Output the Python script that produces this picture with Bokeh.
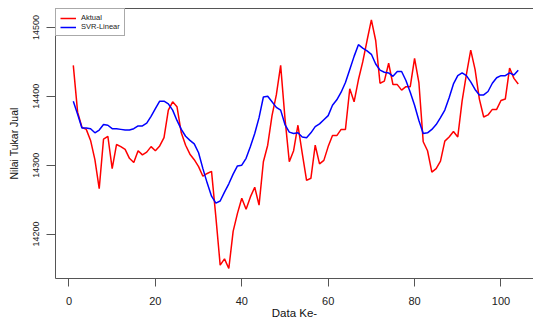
from bokeh.plotting import figure
from bokeh.models import FixedTicker, Range1d, LinearAxis
from bokeh.embed import file_html
from bokeh.resources import INLINE

# ---- data ----
index = list(range(1, 105))
aktual = [14445, 14377, 14355, 14352, 14336, 14308, 14266, 14338, 14342, 14295,
          14330, 14327, 14323, 14310, 14304, 14321, 14315, 14319, 14327, 14321,
          14328, 14340, 14380, 14392, 14385, 14347, 14329, 14316, 14308, 14298,
          14284, 14288, 14291, 14225, 14155, 14164, 14150, 14204, 14230, 14252,
          14236, 14254, 14268, 14242, 14305, 14329, 14372, 14402, 14445, 14368,
          14305, 14321, 14358, 14317, 14278, 14281, 14329, 14302, 14307, 14327,
          14343, 14343, 14352, 14352, 14411, 14392, 14424, 14450, 14481, 14511,
          14481, 14419, 14422, 14448, 14417, 14417, 14409, 14414, 14414, 14455,
          14420, 14334, 14321, 14290, 14295, 14306, 14335, 14341, 14349, 14341,
          14393, 14432, 14467, 14439, 14396, 14370, 14373, 14381, 14381, 14394,
          14396, 14441, 14426, 14418]
svr_linear = [14393, 14374, 14354, 14354, 14353, 14347, 14351, 14359, 14358, 14353,
              14353, 14352, 14351, 14351, 14353, 14357, 14357, 14361, 14371, 14382,
              14393, 14393, 14389, 14380, 14365, 14352, 14342, 14336, 14331, 14318,
              14295, 14274, 14255, 14245, 14248, 14261, 14273, 14287, 14299, 14300,
              14310, 14327, 14346, 14369, 14399, 14400, 14392, 14384, 14380, 14359,
              14348, 14346, 14347, 14341, 14340, 14347, 14356, 14360, 14366, 14372,
              14387, 14395, 14406, 14420, 14439, 14458, 14475, 14470, 14466, 14461,
              14447, 14438, 14435, 14434, 14429, 14436, 14436, 14423, 14406, 14387,
              14365, 14346, 14347, 14352, 14359, 14369, 14380, 14398, 14418, 14430,
              14434, 14430, 14421, 14410, 14402, 14402, 14407, 14419, 14427, 14430,
              14430, 14434, 14431, 14438]
x_ticks = [0, 20, 40, 60, 80, 100]
y_ticks = [14200, 14300, 14400, 14500]

FONT = "Liberation Sans"
FRAME = "#555555"

p = figure(width=533, height=322, output_backend="svg", toolbar_location=None,
           x_range=Range1d(-3.12, 107.53), y_range=Range1d(14135.5, 14527.5),
           min_border_left=55, min_border_right=0, min_border_top=8,
           min_border_bottom=44)

p.background_fill_color = "white"
p.border_fill_color = "white"
p.outline_line_color = None
p.xgrid.visible = False
p.ygrid.visible = False

p.line(index, aktual, line_color="#FF0000", line_width=1.5, legend_label="Aktual")
p.line(index, svr_linear, line_color="#0000FF", line_width=1.5, legend_label="SVR-Linear")

# x axis (bottom)
xa = p.below[0]
xa.ticker = FixedTicker(ticks=x_ticks)
xa.axis_line_color = FRAME
xa.major_tick_line_color = FRAME
xa.major_tick_out = 8
xa.major_tick_in = 0
xa.minor_tick_line_color = None
xa.major_label_text_font = FONT
xa.major_label_text_font_size = "11px"
xa.major_label_text_color = "#222222"
xa.major_label_standoff = 10
xa.axis_label = "Data Ke-"
xa.axis_label_text_font = FONT
xa.axis_label_text_font_size = "11.5px"
xa.axis_label_text_font_style = "normal"
xa.axis_label_text_color = "#111111"
xa.axis_label_standoff = -1

# y axis (left)
ya = p.left[0]
ya.ticker = FixedTicker(ticks=y_ticks)
ya.axis_line_color = FRAME
ya.major_tick_line_color = FRAME
ya.major_tick_out = 9
ya.major_tick_in = 0
ya.minor_tick_line_color = None
ya.major_label_orientation = "vertical"
ya.major_label_text_font = FONT
ya.major_label_text_font_size = "9px"
ya.major_label_text_color = "#222222"
ya.major_label_standoff = 7
ya.axis_label = "Nilai Tukar Jual"
ya.axis_label_text_font = FONT
ya.axis_label_text_font_size = "10.5px"
ya.axis_label_text_font_style = "normal"
ya.axis_label_text_color = "#111111"
ya.axis_label_standoff = 11

# top border line (plot box continues beyond the right edge)
top = LinearAxis(ticker=FixedTicker(ticks=[]), axis_line_color=FRAME,
                 major_tick_out=0, major_tick_in=0, minor_tick_out=0,
                 minor_tick_in=0, major_label_text_font_size="0px",
                 major_label_standoff=0, minor_tick_line_color=None,
                 major_tick_line_color=None)
p.add_layout(top, "above")

# legend
lg = p.legend[0]
lg.location = "top_left"
lg.margin = 0
lg.padding = 4
lg.spacing = 0
lg.border_line_color = FRAME
lg.border_line_width = 1
lg.background_fill_color = "white"
lg.background_fill_alpha = 1
lg.label_text_font = FONT
lg.label_text_font_size = "7.5px"
lg.label_text_color = "#222222"
lg.label_height = 8
lg.glyph_height = 8
lg.glyph_width = 16
lg.label_standoff = 5

open("out.html", "w").write(file_html(p, INLINE))
